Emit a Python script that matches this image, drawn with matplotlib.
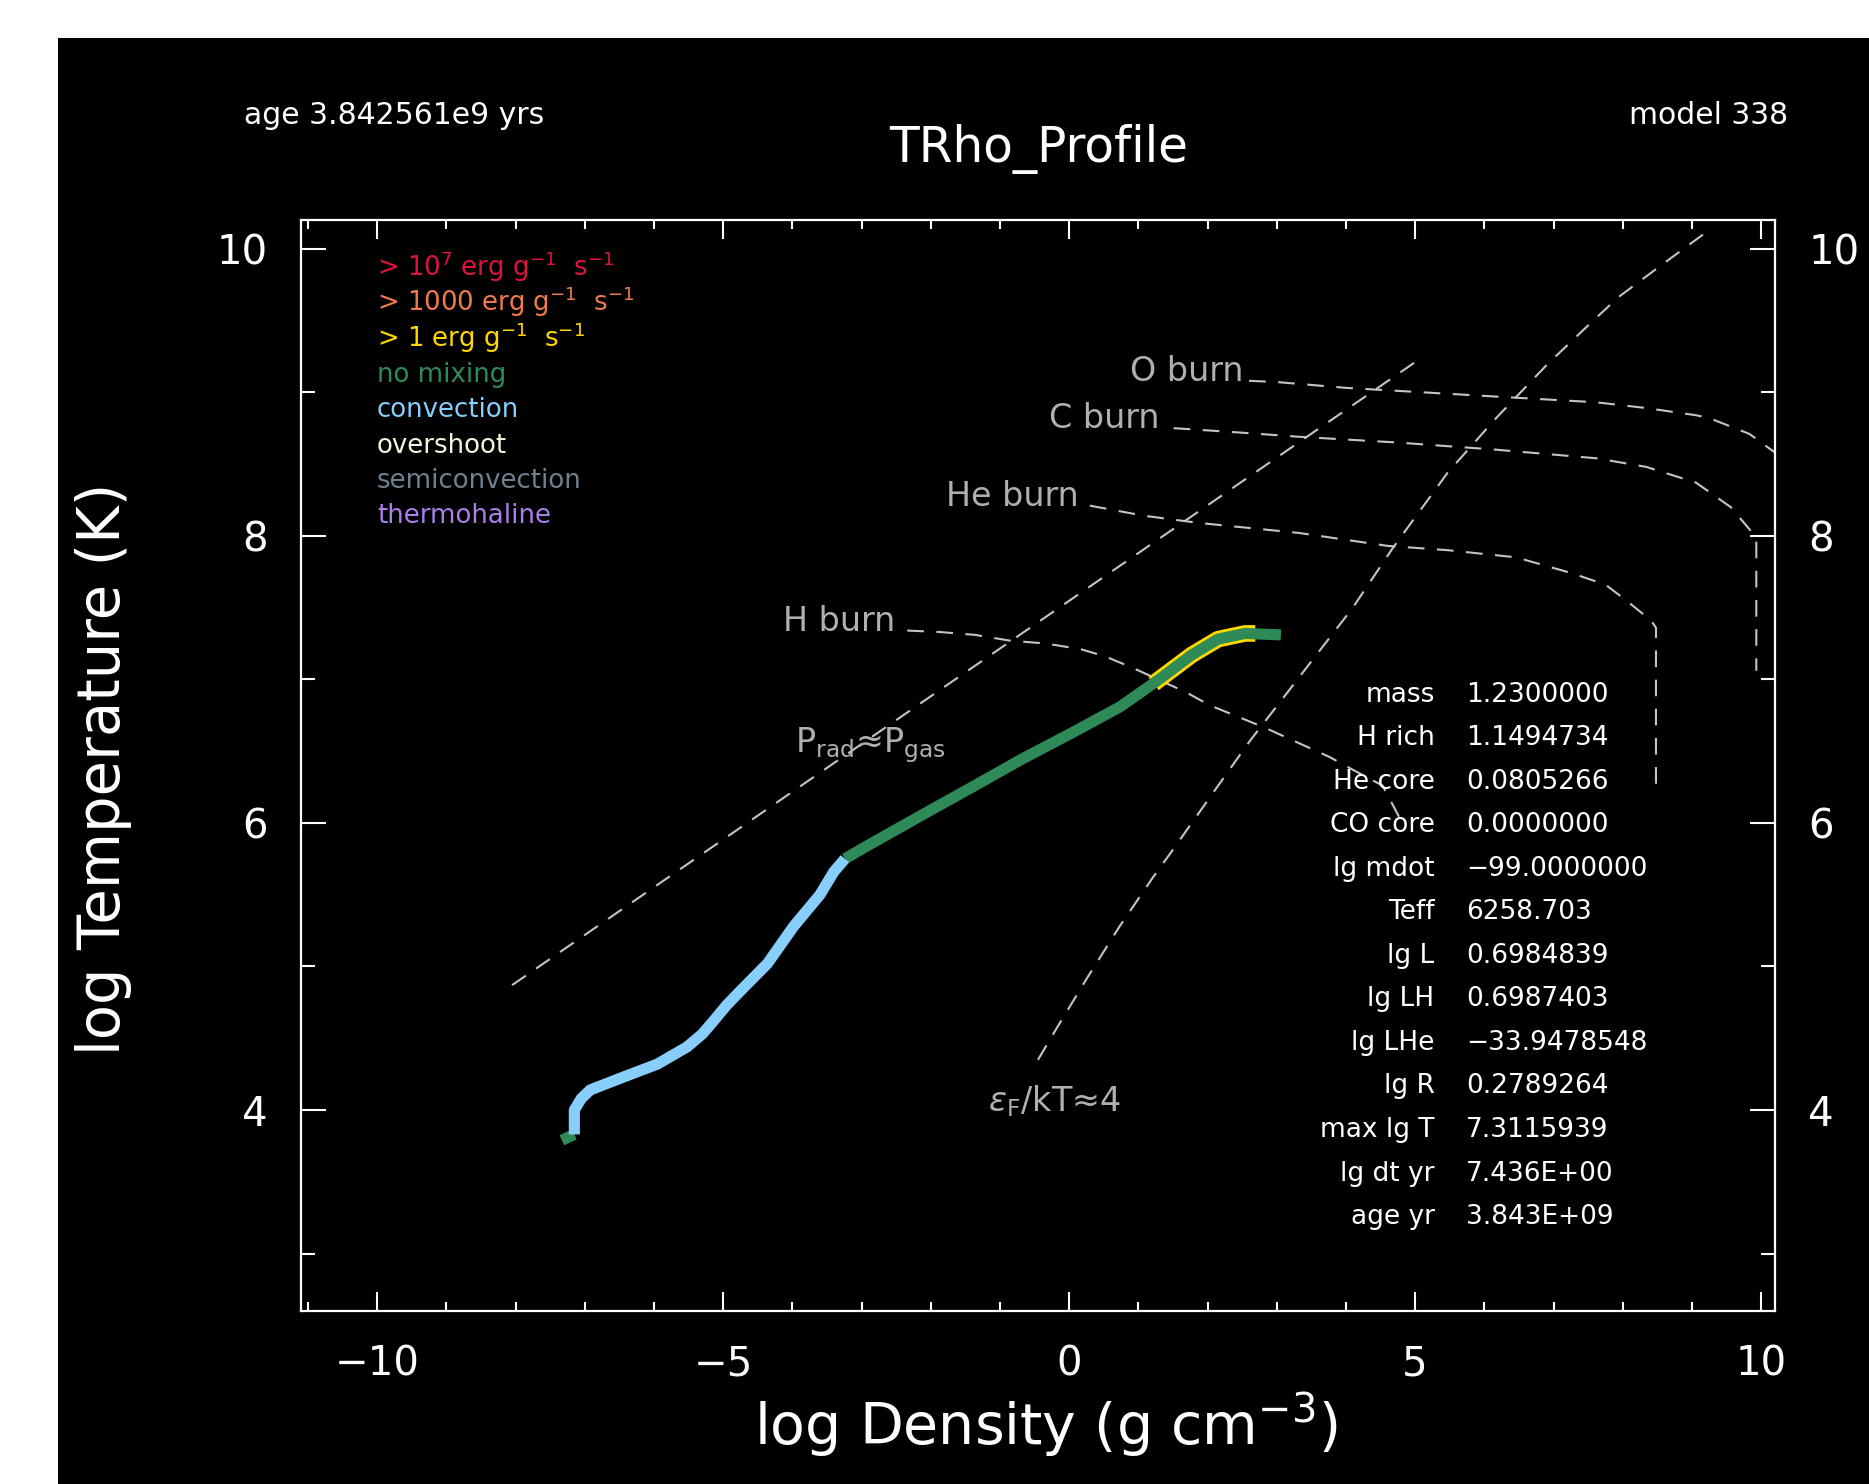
import matplotlib
matplotlib.use("Agg")
import matplotlib.pyplot as plt
from matplotlib.patches import Rectangle
from matplotlib.ticker import MultipleLocator

W, H = 1869, 1484

# --- profile (log rho, log T), split by mixing type ---
conv_rho = [-7.15, -7.15, -7.05, -6.92, -6.44, -5.95, -5.52, -5.30, -5.14, -4.95,
            -4.75, -4.36, -3.98, -3.60, -3.40, -3.24]
conv_T = [3.83, 4.00, 4.08, 4.14, 4.23, 4.32, 4.44, 4.53, 4.62, 4.73,
          4.83, 5.02, 5.28, 5.50, 5.66, 5.75]
surf_rho = [-7.33, -7.15]
surf_T = [3.79, 3.83]
nomix_rho = [-3.24, -2.92, -2.44, -1.96, -1.40, -0.70, 0.05, 0.74, 1.30, 1.77,
             2.15, 2.54, 3.06]
nomix_T = [5.75, 5.84, 5.97, 6.10, 6.25, 6.44, 6.63, 6.81, 7.00, 7.17,
           7.28, 7.32, 7.31]
burn_rho = [1.22, 1.30, 1.77, 2.15, 2.54, 2.69]
burn_T = [6.97, 7.00, 7.17, 7.28, 7.32, 7.32]

# --- reference lines ---
prad_rho = [-8.05, 5.00]
prad_T = [4.87, 9.21]
degen_rho = [-0.45, -0.18, 0.26, 0.73, 1.21, 1.48, 2.08, 2.61, 3.14, 3.62,
             4.10, 4.67, 5.47, 6.17, 6.90, 7.40, 7.93, 8.57, 9.22]
degen_T = [4.35, 4.57, 4.92, 5.28, 5.62, 5.80, 6.21, 6.57, 6.90, 7.20,
           7.50, 7.91, 8.44, 8.82, 9.19, 9.42, 9.66, 9.89, 10.12]
hburn_rho = [-2.34, -1.87, -1.36, -0.86, -0.34, 0.17, 0.52, 0.92, 1.69, 2.03,
             2.54, 2.89, 3.30, 3.76, 4.10, 4.53, 4.77]
hburn_T = [7.34, 7.33, 7.31, 7.27, 7.25, 7.21, 7.16, 7.08, 6.91, 6.82,
           6.72, 6.65, 6.56, 6.46, 6.37, 6.26, 6.04]
heburn_rho = [0.30, 1.08, 1.87, 3.32, 4.60, 5.47, 6.46, 7.26, 7.75, 8.05, 8.41, 8.48, 8.48]
heburn_T = [8.21, 8.14, 8.09, 8.02, 7.93, 7.90, 7.85, 7.74, 7.66, 7.55, 7.41, 7.36, 6.25]
cburn_rho = [1.51, 2.45, 3.32, 4.74, 6.17, 7.62, 8.34, 9.06, 9.56, 9.84, 9.93, 9.93]
cburn_T = [8.75, 8.72, 8.69, 8.65, 8.60, 8.54, 8.48, 8.37, 8.20, 8.04, 7.97, 7.06]
oburn_rho = [2.60, 3.03, 4.02, 4.74, 6.17, 7.62, 8.34, 9.06, 9.25, 9.62, 9.83, 10.2]
oburn_T = [9.08, 9.07, 9.03, 9.01, 8.97, 8.93, 8.89, 8.84, 8.82, 8.75, 8.71, 8.58]

legend_labels = [r'> 10$^7$ erg g$^{-1}$  s$^{-1}$', r'> 1000 erg g$^{-1}$  s$^{-1}$',
                 r'> 1 erg g$^{-1}$  s$^{-1}$', 'no mixing', 'convection',
                 'overshoot', 'semiconvection', 'thermohaline']
legend_colors = ['#dc143c', '#f07a4e', '#ffd700', '#2e8b57', '#87cefa',
                 '#f5f5dc', '#708090', '#a97fe8']

info_labels = ['mass', 'H rich', 'He core', 'CO core', 'lg mdot', 'Teff', 'lg L',
               'lg LH', 'lg LHe', 'lg R', 'max lg T', 'lg dt yr', 'age yr']
info_values = ['1.2300000', '1.1494734', '0.0805266', '0.0000000', '\u221299.0000000',
               '6258.703', '0.6984839', '0.6987403', '\u221233.9478548', '0.2789264',
               '7.3115939', '7.436E+00', '3.843E+09']

LINE = '#c4c4c4'
LBL = '#b0b0b0'


def fx(px):
    return px / W


def fy(py):
    return 1 - py / H


fig = plt.figure(figsize=(W / 100, H / 100), dpi=100, facecolor='white')
fig.add_artist(Rectangle((fx(58), 0), 1, fy(38), transform=fig.transFigure,
                         facecolor='black', edgecolor='none', zorder=0))

ax = fig.add_axes([fx(301), fy(1311), fx(1775) - fx(301), fy(220) - fy(1311)])
ax.set_facecolor('black')
ax.set_xlim(-11.1, 10.2)
ax.set_ylim(2.6, 10.2)

dash = (0, (8, 6))
for xs, ys in [(prad_rho, prad_T), (degen_rho, degen_T), (hburn_rho, hburn_T),
               (heburn_rho, heburn_T), (cburn_rho, cburn_T), (oburn_rho, oburn_T)]:
    ax.plot(xs, ys, color=LINE, lw=1.5, ls=dash, zorder=2)

prof = dict(solid_capstyle='butt', solid_joinstyle='round')
ax.plot(burn_rho, burn_T, color='#ffd700', lw=12, zorder=3, **prof)
ax.plot(nomix_rho, nomix_T, color='#2e8b57', lw=8, zorder=4, **prof)
ax.plot(surf_rho, surf_T, color='#2e8b57', lw=8, zorder=4, **prof)
ax.plot(conv_rho, conv_T, color='#87cefa', lw=8, zorder=5, **prof)

# line labels
ax.text(-2.52, 7.34, 'H burn', color=LBL, fontsize=24, ha='right', va='baseline')
ax.text(0.14, 8.21, 'He burn', color=LBL, fontsize=24, ha='right', va='baseline')
ax.text(1.30, 8.75, 'C burn', color=LBL, fontsize=24, ha='right', va='baseline')
ax.text(2.52, 9.08, 'O burn', color=LBL, fontsize=24, ha='right', va='baseline')
ax.text(-3.96, 6.49, r'P$_{\rm rad}$≈P$_{\rm gas}$', color=LBL, fontsize=24,
        ha='left', va='baseline')
ax.text(-1.17, 3.99, r'$\epsilon_{\rm F}$/kT≈4', color=LBL, fontsize=24,
        ha='left', va='baseline')

# legend
for i, (lab, col) in enumerate(zip(legend_labels, legend_colors)):
    ax.text(-10.0, 9.81 - 0.246 * i, lab, color=col, fontsize=18.7,
            ha='left', va='baseline')

# info block
for i, (lab, val) in enumerate(zip(info_labels, info_values)):
    yy = 6.845 - 0.3033 * i
    ax.text(5.28, yy, lab, color='white', fontsize=19, ha='right', va='baseline')
    ax.text(5.74, yy, val, color='white', fontsize=19, ha='left', va='baseline')

# axes styling
for s in ax.spines.values():
    s.set_color('white')
    s.set_linewidth(1.6)
ax.xaxis.set_major_locator(MultipleLocator(5))
ax.xaxis.set_minor_locator(MultipleLocator(1))
ax.yaxis.set_major_locator(MultipleLocator(2))
ax.yaxis.set_minor_locator(MultipleLocator(1))
ax.tick_params(which='both', direction='in', top=True, right=True,
               labelright=True, colors='white', labelsize=29, width=1.5)
ax.tick_params(axis='x', which='major', length=13.7, pad=24)
ax.tick_params(axis='x', which='minor', length=6.5)
ax.tick_params(axis='y', which='major', length=18, pad=24)
ax.tick_params(axis='y', which='minor', length=10)

fig.text(fx(1046), fy(1445), r'log Density (g cm$^{-3}$)', color='white',
         fontsize=41, ha='center', va='baseline')
fig.text(fx(104), fy(769), 'log Temperature (K)', color='white', fontsize=41.5,
         rotation=90, ha='center', va='center')
fig.text(fx(1039), fy(149), 'TRho_Profile', color='white', fontsize=35,
         ha='center', va='center')
fig.text(fx(244), fy(116), 'age 3.842561e9 yrs', color='white', fontsize=21.5,
         ha='left', va='center')
fig.text(fx(1788), fy(116), 'model 338', color='white', fontsize=21.5,
         ha='right', va='center')

fig.savefig('out.png', dpi=100, facecolor='white')
